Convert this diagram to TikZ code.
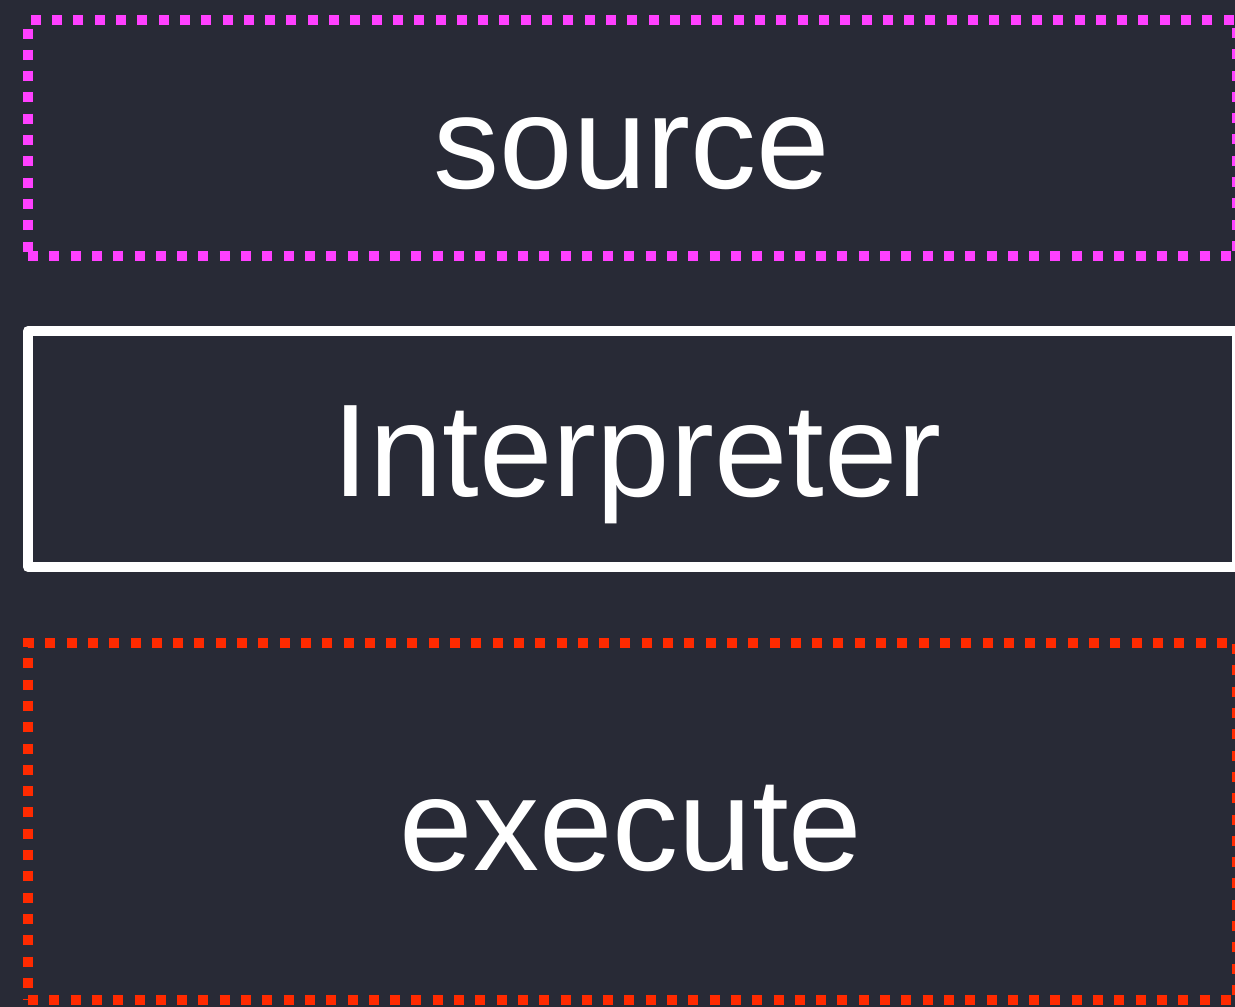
\documentclass[tikz,border=0pt]{standalone}
\usepackage{fontspec}
\setmainfont{Liberation Sans}
\definecolor{bgdark}{HTML}{282A36}
\definecolor{pinkdot}{HTML}{FF40FF}
\definecolor{reddot}{HTML}{FF2A00}
\begin{document}
\begin{tikzpicture}[x=1pt,y=-1pt,
  frame/.style={draw, line width=10pt, rectangle, inner sep=0pt, outer sep=0pt,
    minimum width=1209pt},
  dotframe/.style={frame, dash pattern=on 10pt off 11.3pt, line cap=butt},
  solidframe/.style={frame, draw=white, line join=round},
  lbl/.style={text=white, inner sep=0pt, anchor=base,
    font=\fontsize{132}{150}\selectfont}]
  % canvas
  \useasboundingbox[fill=bgdark] (0,0) rectangle (1235,1007);
  % three stacked boxes
  \node[dotframe, draw=pinkdot, minimum height=236pt] (srcbox) at (632.5,138) {};
  \node[solidframe, minimum height=236pt] (intbox) at (632.5,449) {};
  \node[dotframe, draw=reddot, minimum height=357pt] (exebox) at (632.5,821.5) {};
  % labels
  \node[lbl] (srctext) at (632,188) {source};
  \node[lbl] (inttext) at (637,496) {Interpreter};
  \node[lbl] (exetext) at (631,870) {execute};
\end{tikzpicture}
\end{document}
